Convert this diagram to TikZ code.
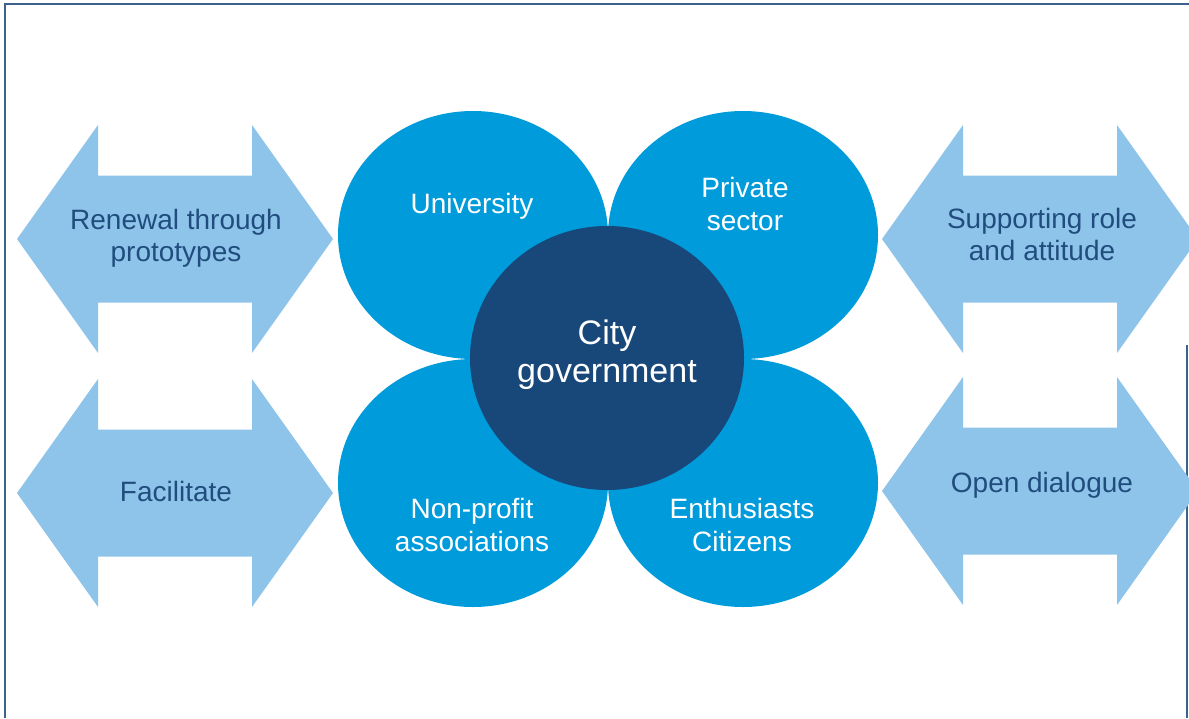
\documentclass[tikz,border=0pt]{standalone}
\usepackage{fontspec}
\setmainfont{Liberation Sans}
\usetikzlibrary{shapes.geometric}

\definecolor{arrowblue}{RGB}{142,196,234}
\definecolor{petalblue}{RGB}{0,155,219}
\definecolor{cityblue}{RGB}{24,72,122}
\definecolor{labelblue}{RGB}{33,77,126}
\definecolor{framecol}{RGB}{60,98,140}

\begin{document}
\begin{tikzpicture}[x=1pt,y=-1pt,
        petal/.style={ellipse, fill=petalblue, inner sep=0pt,
            minimum width=270pt, minimum height=248pt},
        city/.style={ellipse, fill=cityblue, inner sep=0pt,
            minimum width=274pt, minimum height=264pt},
        petaltext/.style={text=white, align=center,
            font=\fontsize{28}{33}\selectfont},
        citytext/.style={text=white, align=center,
            font=\fontsize{34}{38}\selectfont},
        arrowtext/.style={text=labelblue, align=center,
            font=\fontsize{28}{32}\selectfont},
        twoway/.pic={
            \fill[arrowblue] (-158,0) -- (-77,-114) -- (-77,-63.5) -- (77,-63.5)
                -- (77,-114) -- (158,0) -- (77,114) -- (77,63.5)
                -- (-77,63.5) -- (-77,114) -- cycle;
        }]
    \useasboundingbox (0,0) rectangle (1189,718);
    \clip (0,0) rectangle (1189,718);

    % frame
    \draw[framecol, line width=2pt] (5,718) -- (5,4) -- (1189,4);
    \draw[framecol, line width=2pt] (1187,345) -- (1187,718);

    % two-way arrows
    \pic at (175,239) {twoway};
    \pic at (175,493) {twoway};
    \pic at (1040,239) {twoway};
    \pic at (1040,491) {twoway};

    \node[arrowtext] (renewal) at (176,238) {Renewal through\\prototypes};
    \node[arrowtext] (facil) at (176,491) {Facilitate};
    \node[arrowtext] (support) at (1042,234) {Supporting role\\and attitude};
    \node[arrowtext] (dialogue) at (1042,485) {Open dialogue};

    % the four partners
    \node[petal] (uni) at (473,235) {};
    \node[petal] (priv) at (743,235) {};
    \node[petal] (nonprofit) at (473,483) {};
    \node[petal] (citizens) at (743,483) {};

    \node[petaltext] (unitext) at (472,206) {University};
    \node[petaltext] (privtext) at (745,204) {Private\\sector};
    \node[petaltext] (nptext) at (472,525) {Non-profit\\associations};
    \node[petaltext] (citztext) at (742,525) {Enthusiasts\\Citizens};

    % centre
    \node[city] (gov) at (607,358) {};
    \node[citytext] (govtext) at (607,355) {City\\government};
\end{tikzpicture}
\end{document}
